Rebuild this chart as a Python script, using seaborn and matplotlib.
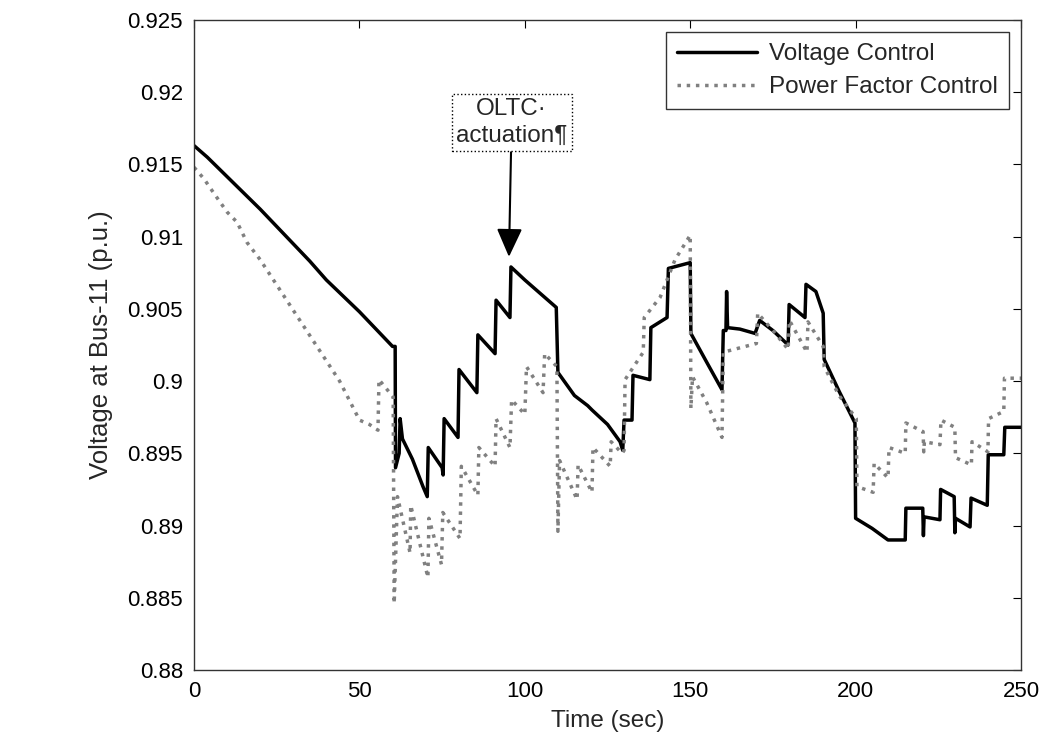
import numpy as np
import pandas as pd
import seaborn as sns
import matplotlib
matplotlib.use("Agg")
import matplotlib.pyplot as plt
from matplotlib.ticker import FormatStrFormatter

# Voltage Control (solid black)
vc_t = [0, 4, 8, 12, 16, 20, 25, 30, 35, 40, 45, 50, 55, 60,
        60.8, 60.9, 62.0, 62.3, 63.0, 66, 69.2, 70.5, 70.8, 72, 75, 75.3, 75.6, 79.8,
        80.1, 85.5, 85.8, 91.0, 91.3, 95.5, 95.8, 100, 105, 109.5, 110.0, 115, 119,
        120.3, 125, 128.8, 129.6, 130.0, 132.4, 132.7, 137.8, 138.1, 143.0, 143.4,
        150.0, 150.2, 155, 159.6, 160.0, 160.8, 161.0, 161.3, 165, 169.6, 171.0, 175,
        179.6, 179.9, 184.7, 185.0, 188, 190.2, 190.5, 195, 199.8, 200.0, 205, 209.8,
        215.0, 215.2, 220.3, 220.5, 220.7, 225.5, 225.7, 229.8, 230.0, 230.2, 234.6,
        234.9, 239.8, 240.1, 244.8, 245.1, 250]
vc_v = [0.9163, 0.9155, 0.9146, 0.9137, 0.9128, 0.9119, 0.9107, 0.9095, 0.9083, 0.9070,
        0.9059, 0.9048, 0.9036, 0.9024,
        0.9024, 0.8940, 0.8950, 0.8974, 0.8960, 0.8946, 0.8927, 0.8920, 0.8954, 0.8950,
        0.8940, 0.8935, 0.8974, 0.8961,
        0.9008, 0.8992, 0.9032, 0.9019, 0.9056, 0.9044, 0.9079, 0.9070, 0.9060, 0.9051,
        0.9006, 0.8990, 0.8983,
        0.8980, 0.8970, 0.8958, 0.8952, 0.8973, 0.8973, 0.9004, 0.9001, 0.9037, 0.9044,
        0.9078, 0.9082, 0.9033, 0.9013, 0.8994, 0.9035, 0.9035, 0.9062, 0.9037, 0.9036,
        0.9033, 0.9042, 0.9035, 0.9025, 0.9053, 0.9044, 0.9067, 0.9062, 0.9047, 0.9015,
        0.8993, 0.8971, 0.8905, 0.8898, 0.8890, 0.8890, 0.8912, 0.8912, 0.8893, 0.8906,
        0.8904, 0.8925, 0.8920, 0.8895, 0.8905, 0.8899, 0.8919, 0.8914, 0.8949, 0.8949,
        0.8968, 0.8968]

# Power Factor Control (dotted grey)
pf_t = [0, 3, 6, 10, 13, 16, 20, 24, 28, 32, 36, 40, 44, 48, 50, 53, 55.6, 55.9, 60.2,
        60.5, 61.5, 65.3, 65.5, 70.7, 71.0, 74.8, 75.2, 80.4, 80.8, 85.8, 86.1, 91.0,
        91.3, 95.5, 96.0, 100.0, 100.5, 105.5, 106.0, 109.7, 110.0, 110.5, 115.8, 116.1,
        120.3, 120.6, 125.8, 126.1, 129.4, 130.0, 130.3, 135.8, 136.1, 140.9, 145.4,
        150.0, 150.2, 150.7, 155, 159.6, 160.0, 165, 170.0, 170.4, 175, 179.6, 180.0,
        185.3, 185.6, 190.2, 190.5, 195, 200.2, 200.4, 205.3, 205.6, 209.8, 210.1, 215.0,
        215.2, 220.4, 220.6, 220.8, 225.5, 225.8, 230.0, 230.2, 235.0, 235.2, 240.0,
        240.2, 244.8, 245.0, 250]
pf_v = [0.9148, 0.9140, 0.9130, 0.9117, 0.9110, 0.9096, 0.9084, 0.9070, 0.9056, 0.9042,
        0.9028, 0.9014, 0.9000, 0.8982, 0.8973, 0.8970, 0.8966, 0.9001, 0.8989,
        0.8846, 0.8920, 0.8881, 0.8914, 0.8864, 0.8905, 0.8873, 0.8909, 0.8891, 0.8941,
        0.8921, 0.8954, 0.8941, 0.8974, 0.8954, 0.8987, 0.8977, 0.9010, 0.8992, 0.9019,
        0.9010, 0.8896, 0.8945, 0.8918, 0.8942, 0.8923, 0.8954, 0.8941, 0.8958, 0.8950,
        0.8952, 0.9001, 0.9020, 0.9044, 0.9058, 0.9084, 0.9101, 0.8981, 0.9003, 0.8985,
        0.8961, 0.9020, 0.9023, 0.9026, 0.9047, 0.9035, 0.9022, 0.9042, 0.9020, 0.9041,
        0.9024, 0.9010, 0.8990, 0.8974, 0.8927, 0.8923, 0.8943, 0.8933, 0.8954, 0.8950,
        0.8971, 0.8965, 0.8951, 0.8958, 0.8956, 0.8973, 0.8968, 0.8947, 0.8942, 0.8958,
        0.8951, 0.8974, 0.8979, 0.9002, 0.9002]

x_ticks = [0, 50, 100, 150, 200, 250]
y_ticks = [0.88, 0.885, 0.89, 0.895, 0.9, 0.905, 0.91, 0.915, 0.92, 0.925]

sns.set_style("white")
plt.rcParams['font.family'] = ['Liberation Sans', 'DejaVu Sans']
tick_fs = 16
label_fs = 17.5

fig = plt.figure(figsize=(10.49, 7.43), dpi=100)
ax = fig.add_axes([0.185, 0.0983, 0.7883, 0.8748])

vc = pd.DataFrame({'t': vc_t, 'v': vc_v})
pf = pd.DataFrame({'t': pf_t, 'v': pf_v})
sns.lineplot(data=vc, x='t', y='v', sort=False, estimator=None, color='black',
             linewidth=2.5, ax=ax, label='Voltage Control')
sns.lineplot(data=pf, x='t', y='v', sort=False, estimator=None, color='#808080',
             linewidth=2.5, linestyle=':', ax=ax, label='Power Factor Control')

ax.set_xlim(0, 250)
ax.set_ylim(0.88, 0.925)
ax.set_xticks(x_ticks)
ax.set_yticks(y_ticks)
ax.yaxis.set_major_formatter(FormatStrFormatter('%g'))
ax.tick_params(direction='in', length=6, top=True, right=True, labelsize=tick_fs,
               colors='black', pad=8)
for s in ax.spines.values():
    s.set_color('#333333')
    s.set_linewidth(1.0)

ax.set_xlabel("Time (sec)", fontsize=label_fs, labelpad=6)
ax.set_ylabel("Voltage at Bus-11 (p.u.)", fontsize=18.5, labelpad=10)

leg = ax.legend(loc='upper right', fontsize=label_fs, frameon=True, fancybox=False,
                handlelength=3.3, handletextpad=0.5, borderaxespad=0.5,
                borderpad=0.45, labelspacing=0.45)
leg.get_frame().set_edgecolor('black')
leg.get_frame().set_linewidth(1.0)

ax.annotate("OLTC\u00b7\nactuation\u00b6", xy=(95.2, 0.9086), xytext=(96, 0.9179),
            ha='center', va='center', fontsize=label_fs, linespacing=1.25,
            bbox=dict(boxstyle='square,pad=0.18', fc='white', ec='black', ls=':', lw=1),
            arrowprops=dict(arrowstyle='-|>,head_width=0.45,head_length=1.0',
                            color='black', lw=1.5, shrinkA=0, shrinkB=0))

fig.savefig('out.png', dpi=100)
